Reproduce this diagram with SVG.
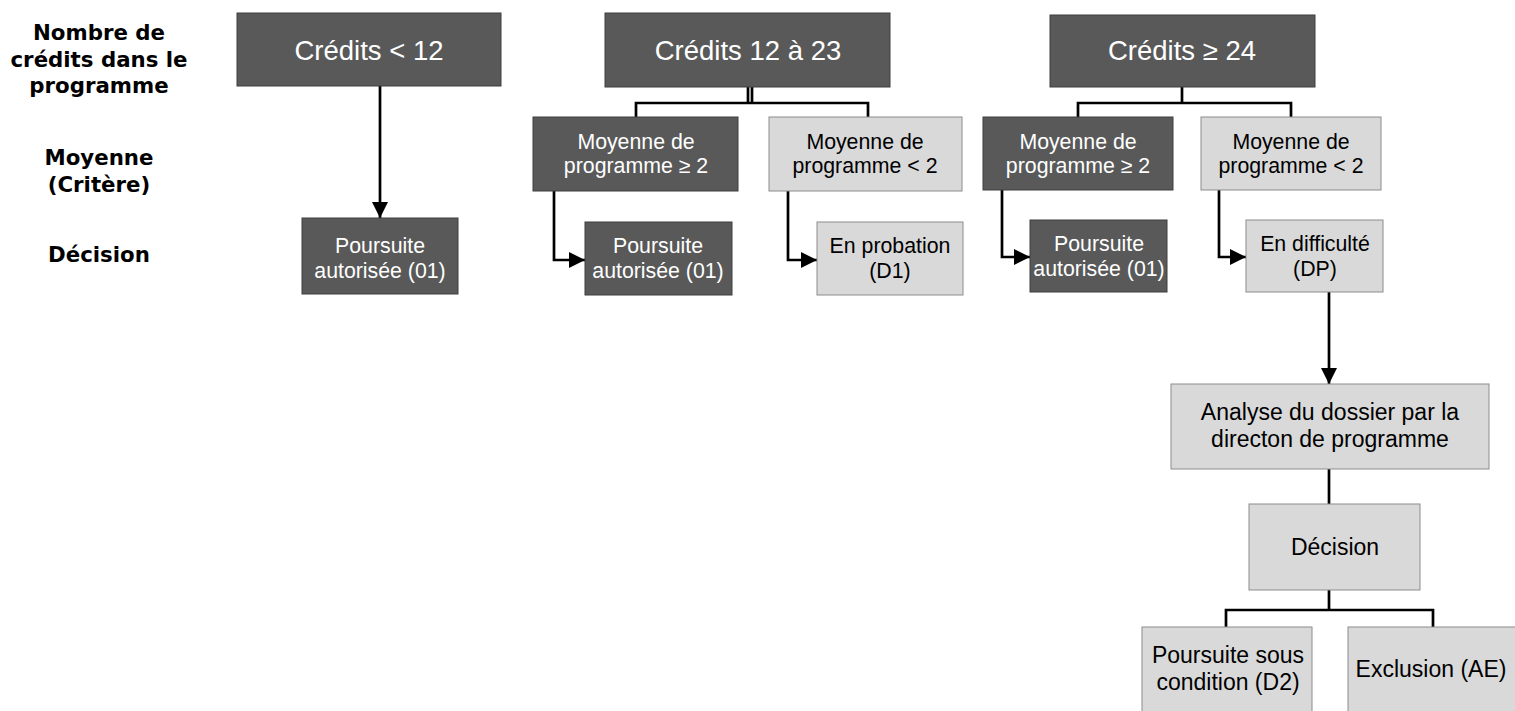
<svg xmlns="http://www.w3.org/2000/svg" width="1515" height="711" viewBox="0 0 1515 711">
<style>
.dark{fill:#595959;stroke:#3f3f3f;stroke-width:1}
.light{fill:#d9d9d9;stroke:#8c8c8c;stroke-width:1}
.t{font-family:"Liberation Sans",Arial,sans-serif;text-anchor:middle}
.w{fill:#ffffff}
.b{fill:#000000}
.h{font-size:27.5px}
.m{font-size:21.3px}
.l{font-size:23px}
.lab{font-family:"DejaVu Sans","Liberation Sans",sans-serif;font-weight:bold;font-size:21.3px;text-anchor:middle;fill:#000}
.c{fill:none;stroke:#000;stroke-width:2.7}
</style>
<defs>
<marker id="ah" viewBox="0 0 10 10" refX="10" refY="5" markerWidth="6" markerHeight="6" markerUnits="strokeWidth" orient="auto">
<path d="M0,0 L10,5 L0,10 z" fill="#000"/>
</marker>
</defs>
<rect width="1515" height="711" fill="#ffffff"/>
<g id="labels">
<text class="lab" x="99" y="40">Nombre de</text>
<text class="lab" x="99" y="67">crédits dans le</text>
<text class="lab" x="99" y="93">programme</text>
<text class="lab" x="99" y="165">Moyenne</text>
<text class="lab" x="99" y="192">(Critère)</text>
<text class="lab" x="99" y="262">Décision</text>
</g>
<g id="connectors">
<line class="c" x1="380" y1="86" x2="380" y2="218" marker-end="url(#ah)"/>
<line class="c" x1="748" y1="87" x2="748" y2="103" stroke-width="1.8"/>
<line class="c" x1="752" y1="87" x2="752" y2="103" stroke-width="1.8"/>
<polyline class="c" points="636,117 636,103 868,103 868,117"/>
<polyline class="c" points="554,191 554,260 585,260" marker-end="url(#ah)"/>
<polyline class="c" points="788,191 788,260 817,260" marker-end="url(#ah)"/>
<line class="c" x1="1182" y1="87" x2="1182" y2="103"/>
<polyline class="c" points="1078,117 1078,103 1291,103 1291,117"/>
<polyline class="c" points="1002,190 1002,257 1030,257" marker-end="url(#ah)"/>
<polyline class="c" points="1219,190 1219,257 1246,257" marker-end="url(#ah)"/>
<line class="c" x1="1329" y1="292" x2="1329" y2="384" marker-end="url(#ah)"/>
<line class="c" x1="1329" y1="469" x2="1329" y2="504"/>
<line class="c" x1="1329" y1="590" x2="1329" y2="610"/>
<polyline class="c" points="1226,627 1226,610 1433,610 1433,627"/>
</g>
<g id="n1">
<rect class="dark" x="237" y="13" width="264" height="73"/>
<text class="t w h" x="369" y="60">Crédits &lt; 12</text>
</g>
<g id="n1a">
<rect class="dark" x="302" y="218" width="156" height="76"/>
<text class="t w m" x="380" y="253">Poursuite</text>
<text class="t w m" x="380" y="278">autorisée (01)</text>
</g>
<g id="n2">
<rect class="dark" x="605" y="13" width="285" height="74"/>
<text class="t w h" x="748" y="60">Crédits 12 à 23</text>
</g>
<g id="n2a">
<rect class="dark" x="533" y="117" width="205" height="74"/>
<text class="t w m" x="636" y="149">Moyenne de</text>
<text class="t w m" x="636" y="173">programme ≥ 2</text>
</g>
<g id="n2b">
<rect class="light" x="769" y="117" width="193" height="74"/>
<text class="t b m" x="865" y="149">Moyenne de</text>
<text class="t b m" x="865" y="173">programme &lt; 2</text>
</g>
<g id="n2c">
<rect class="dark" x="585" y="222" width="147" height="73"/>
<text class="t w m" x="658" y="253">Poursuite</text>
<text class="t w m" x="658" y="278">autorisée (01)</text>
</g>
<g id="n2d">
<rect class="light" x="817" y="222" width="146" height="73"/>
<text class="t b m" x="890" y="253">En probation</text>
<text class="t b m" x="890" y="278">(D1)</text>
</g>
<g id="n3">
<rect class="dark" x="1050" y="15" width="265" height="72"/>
<text class="t w h" x="1182" y="60">Crédits ≥ 24</text>
</g>
<g id="n3a">
<rect class="dark" x="983" y="117" width="190" height="73"/>
<text class="t w m" x="1078" y="149">Moyenne de</text>
<text class="t w m" x="1078" y="173">programme ≥ 2</text>
</g>
<g id="n3b">
<rect class="light" x="1201" y="117" width="180" height="73"/>
<text class="t b m" x="1291" y="149">Moyenne de</text>
<text class="t b m" x="1291" y="173">programme &lt; 2</text>
</g>
<g id="n3c">
<rect class="dark" x="1030" y="220" width="137" height="72"/>
<text class="t w m" x="1099" y="251">Poursuite</text>
<text class="t w m" x="1099" y="276">autorisée (01)</text>
</g>
<g id="n3d">
<rect class="light" x="1246" y="220" width="137" height="72"/>
<text class="t b m" x="1315" y="251">En difficulté</text>
<text class="t b m" x="1315" y="276">(DP)</text>
</g>
<g id="n4">
<rect class="light" x="1171" y="384" width="318" height="85"/>
<text class="t b l" x="1330" y="420">Analyse du dossier par la</text>
<text class="t b l" x="1330" y="447">directon de programme</text>
</g>
<g id="n5">
<rect class="light" x="1249" y="504" width="171" height="86"/>
<text class="t b l" x="1335" y="555">Décision</text>
</g>
<g id="n6">
<rect class="light" x="1142" y="627" width="170" height="90"/>
<text class="t b l" x="1228" y="663">Poursuite sous</text>
<text class="t b l" x="1228" y="690">condition (D2)</text>
</g>
<g id="n7">
<rect class="light" x="1348" y="627" width="172" height="90"/>
<text class="t b l" x="1431" y="677">Exclusion (AE)</text>
</g>
</svg>
